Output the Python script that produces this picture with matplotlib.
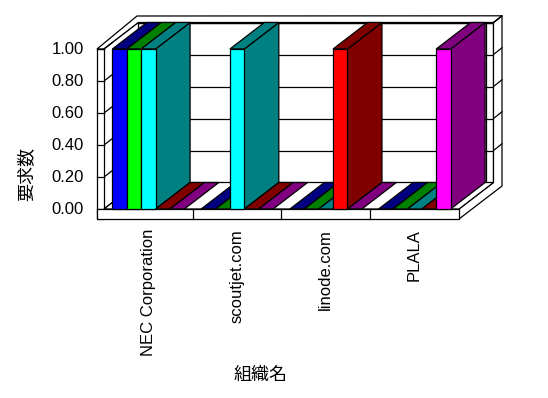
import matplotlib
matplotlib.use("Agg")
import matplotlib.pyplot as plt
from matplotlib.patches import Polygon

# data
categories = ['NEC Corporation', 'scoutjet.com', 'linode.com', 'PLALA']
series1 = [1, 0, 0, 0]
series2 = [1, 0, 0, 0]
series3 = [1, 1, 0, 0]
series4 = [0, 0, 1, 0]
series5 = [0, 0, 0, 1]
all_series = [series1, series2, series3, series4, series5]
yticks = [0.0, 0.2, 0.4, 0.6, 0.8, 1.0]

front_cols = ['#0000ff', '#00ff00', '#00ffff', '#ff0000', '#ff00ff']
dark_cols = ['#000080', '#008000', '#008080', '#800000', '#800080']

# geometry (one category = 88.75px, 1.0 = 160px)
PX = 88.75
PY = 160.0
dx, dy = 34.5 / PX, 26.5 / PY          # depth of the plot box
tx, ty = 8.5 / PX, 6.7 / PY            # wall thickness
lw_ = 7 / PX                           # left wall thickness
fl = 10 / PY                           # floor thickness
n = len(categories)
ns = len(all_series)
bw = 14.4 / PX
off = (1 - ns * bw) / 2

fig = plt.figure(figsize=(5.48, 3.98), dpi=100)
ax = fig.add_axes([0, 0, 1, 1])
ax.set_xlim(-104 / PX, (548 - 104) / PX)
ax.set_ylim((209 - 398) / PY, 209 / PY)
ax.axis('off')

lw = 0.9
def poly(pts, fc, z):
    ax.add_patch(Polygon(pts, closed=True, facecolor=fc, edgecolor='black',
                         linewidth=lw, zorder=z, joinstyle='miter'))

# back wall
poly([(dx, dy), (n + dx, dy), (n + dx, 1 + dy), (dx, 1 + dy)], 'white', 1)
xr = n + dx - 8 / PX
for v in yticks[1:]:
    ax.plot([dx, xr], [v + dy, v + dy], color='black', lw=lw, zorder=1.5)
    ax.plot([xr, n + dx], [v + dy, v + dy], color='black', lw=lw, zorder=1.5)
ax.plot([xr, xr], [dy, 1 + dy], color='black', lw=lw, zorder=1.5)

# right side of back wall + floor
poly([(n, 0), (n, -fl), (n + dx + tx, -fl + 33 / PY), (n + dx + tx, 1 + dy + ty),
      (n + dx, 1 + dy), (n + dx, dy)], 'white', 2)
for v in yticks[1:]:
    ax.plot([n + dx, n + dx + tx], [v + dy, v + dy + ty], color='black', lw=lw, zorder=2.5)

# top of walls
corner = (-lw_ + 40 / PX, 1 + 33 / PY)
poly([(-lw_, 1), (0, 1), (dx, 1 + dy), (n + dx, 1 + dy), (n + dx + tx, 1 + dy + ty), corner],
     'white', 2)

# left wall
poly([(0, 0), (0, 1), (dx, 1 + dy), (dx, dy)], 'white', 2)
poly([(-lw_, -fl), (0, -fl), (0, 1), (-lw_, 1)], 'white', 3)
for v in yticks:
    ax.plot([-lw_, 0], [v, v], color='black', lw=lw, zorder=3.5)
    ax.plot([0, 0.25 * dx], [v, v + 0.25 * dy], color='black', lw=lw, zorder=2.5)

# floor
poly([(0, 0), (n, 0), (n + dx, dy), (dx, dy)], 'white', 3)
poly([(-lw_, -fl), (n, -fl), (n, 0), (-lw_, 0)], 'white', 4)
for i in range(1, n):
    ax.plot([i, i], [-fl, 0], color='black', lw=lw, zorder=4.5)

# bars, drawn left to right
for s, vals in enumerate(all_series):
    xs = [c + off + s * bw for c in range(n)]
    bars = ax.bar(xs, vals, width=bw, align='edge', color=front_cols[s],
                  edgecolor='black', linewidth=lw)
    for c, (x, v, b) in enumerate(zip(xs, vals, bars)):
        z = 10 + (c * ns + s) * 3
        if v > 0:
            poly([(x + bw, 0), (x + bw + dx, dy), (x + bw + dx, v + dy), (x + bw, v)],
                 dark_cols[s], z)
        poly([(x, v), (x + bw, v), (x + bw + dx, v + dy), (x + dx, v + dy)], dark_cols[s], z + 1)
        b.set_zorder(z + 2)
        if v == 0:
            b.set_visible(False)

# text
lat = ['Liberation Sans', 'Noto Sans CJK JP']
jp = ['Noto Sans CJK JP', 'DejaVu Sans']
for v in yticks:
    ax.text(-20 / PX, v, f'{v:.2f}', ha='right', va='center', fontsize=12, family=lat)
for i, name in enumerate(categories):
    ax.text(i + 0.5, -20 / PY, name, rotation=90, ha='center', va='top',
            fontsize=12, family=lat)
ax.text((26 - 104) / PX, (209 - 174) / PY, '要求数', rotation=90, ha='center',
        va='center', fontsize=13, family=jp)
ax.text((261 - 104) / PX, (209 - 375) / PY, '組織名', ha='center', va='center',
        fontsize=13, family=jp)

fig.savefig('out.png', dpi=100)
